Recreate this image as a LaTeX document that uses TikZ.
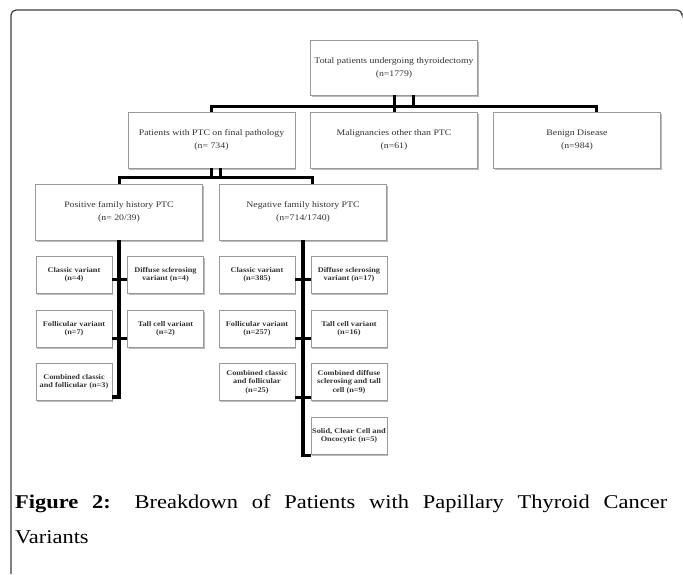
\documentclass[tikz,border=0pt]{standalone}
\usepackage{fontspec}
\setmainfont[FakeStretch=1.15]{Liberation Serif}
\usetikzlibrary{shadows}
\tikzset{
  box/.style={draw=black!40, fill=white, line width=0.6pt, align=center, inner sep=1pt,
    drop shadow={shadow xshift=1.2pt, shadow yshift=-1.5pt, fill=black!45, opacity=.6},
    text=black!80, font=\fontsize{8.5}{13}\selectfont},
  bigbox/.style={box, minimum width=167pt, minimum height=56pt},
  smallbox/.style={box, minimum width=76pt, minimum height=37pt,
    font=\bfseries\fontsize{7.2}{8.4}\selectfont},
  link/.style={line width=3pt},
  trunk/.style={line width=3.5pt},
}
\begin{document}
\begin{tikzpicture}[x=1pt,y=-1pt]
\useasboundingbox (0,0) rectangle (683,574);
\fill[white] (0,0) rectangle (683,574);
% page frame
\draw[line width=1.2pt, black!75, rounded corners=5pt] (11,574) -- (11,10) -- (682,10) -- (682,13);
% top levels
\node[bigbox, minimum height=55pt] (total) at (394,67.5) {Total patients undergoing thyroidectomy\\(n=1779)};
\node[bigbox] (ptc) at (211.5,140) {Patients with PTC on final pathology\\(n= 734)};
\node[bigbox] (other) at (394,140) {Malignancies other than PTC\\(n=61)};
\node[bigbox] (benign) at (577,140) {Benign Disease\\(n=984)};
\node[bigbox] (posfh) at (119,212) {Positive family history PTC\\(n= 20/39)};
\node[bigbox] (negfh) at (303,212) {Negative family history PTC\\(n=714/1740)};
% variants, positive history
\node[smallbox] (pclassic) at (74,274.5) {Classic variant\\(n=4)};
\node[smallbox] (pdiffuse) at (165.5,274.5) {Diffuse sclerosing\\variant (n=4)};
\node[smallbox] (pfollic) at (74,328.5) {Follicular variant\\(n=7)};
\node[smallbox] (ptall) at (165.5,328.5) {Tall cell variant\\(n=2)};
\node[smallbox] (pcombo) at (74,382) {Combined classic\\and follicular (n=3)};
% variants, negative history
\node[smallbox] (nclassic) at (257,274.5) {Classic variant\\(n=385)};
\node[smallbox] (ndiffuse) at (349,274.5) {Diffuse sclerosing\\variant (n=17)};
\node[smallbox] (nfollic) at (257,328.5) {Follicular variant\\(n=257)};
\node[smallbox] (ntall) at (349,328.5) {Tall cell variant\\(n=16)};
\node[smallbox] (ncombo) at (257,382) {Combined classic\\and follicular\\(n=25)};
\node[smallbox] (ncombodiff) at (349,382) {Combined diffuse\\sclerosing and tall\\cell (n=9)};
\node[smallbox] (nsolid) at (349,435.5) {Solid, Clear Cell and\\Oncocytic (n=5)};
% connectors
\coordinate (bar1) at (0,106);
\coordinate (bar2) at (0,177);
\coordinate (row1) at (0,279);
\coordinate (row2) at (0,338);
\coordinate (row3) at (0,397);
\coordinate (tstem) at ([xshift=19pt]total.south);
\coordinate (bstem) at ([xshift=19pt]benign.north);
\coordinate (pstem) at ([xshift=9pt]ptc.south);
\coordinate (nstem) at ([xshift=9pt]negfh.north);
\draw[link] (ptc.north) -- (ptc.north |- bar1) -- (bstem |- bar1) -- (bstem);
\draw[link] (total.south) -- (other.north);
\draw[link] (tstem) -- (tstem |- bar1);
\draw[link] (posfh.north) -- (posfh.north |- bar2) -- (nstem |- bar2) -- (nstem);
\draw[link] (ptc.south) -- (ptc.south |- bar2);
\draw[link] (pstem) -- (pstem |- bar2);
\draw[trunk] (posfh.south) |- (pcombo.east |- row3);
\draw[link] (pclassic.east |- row1) -- (pdiffuse.west |- row1);
\draw[link] (pfollic.east |- row2) -- (ptall.west |- row2);
\draw[trunk] (negfh.south) |- ([yshift=-1pt]nsolid.south west);
\draw[link] (nclassic.east |- row1) -- (ndiffuse.west |- row1);
\draw[link] (nfollic.east |- row2) -- (ntall.west |- row2);
\draw[link] (ncombo.east |- row3) -- (ncombodiff.west |- row3);
% caption
\node[anchor=north west, inner sep=0pt, text width=652pt, align=justify,
  font=\fontsize{19.5}{35}\selectfont] (caption) at (15,495)
  {\textbf{Figure 2:} Breakdown of Patients with Papillary Thyroid Cancer\linebreak Variants};
\end{tikzpicture}
\end{document}
